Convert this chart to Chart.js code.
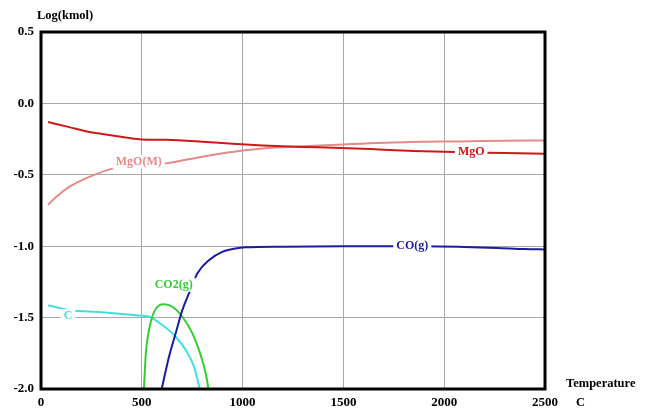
<!DOCTYPE html>
<html>
<head>
<meta charset="utf-8">
<script src="https://cdn.jsdelivr.net/npm/chart.js@4/dist/chart.umd.min.js"></script>
<style>
  body { margin: 0; background: #fff; }
  canvas { display: block; }
</style>
</head>
<body>
<canvas id="chart" width="654" height="416"></canvas>
<script>
// temperatures (C) and log(kmol) values
var mgoT = [35, 140, 240, 355, 440, 500, 620, 800, 950, 1100, 1300, 1450, 1700, 1850, 2050, 2150, 2300, 2500];
var mgoY = [-0.13, -0.166, -0.2, -0.224, -0.243, -0.252, -0.255, -0.268, -0.282, -0.294, -0.305, -0.31, -0.324, -0.333, -0.34, -0.343, -0.348, -0.352];

var mgoMT = [35, 75, 140, 240, 360, 500, 620, 800, 1000, 1100, 1300, 1500, 1830, 2080, 2300, 2500];
var mgoMY = [-0.71, -0.655, -0.585, -0.515, -0.455, -0.435, -0.42, -0.373, -0.33, -0.315, -0.3, -0.287, -0.27, -0.266, -0.262, -0.259];

var coT = [597, 635, 668, 701, 734, 776, 833, 899, 965, 1015, 1200, 1500, 1900, 2100, 2262, 2400, 2500];
var coY = [-2.01, -1.774, -1.61, -1.448, -1.331, -1.19, -1.098, -1.04, -1.016, -1.008, -1.003, -1.0, -1.0, -1.005, -1.012, -1.02, -1.023];

var co2T = [510, 520, 536, 561, 611, 652, 701, 751, 792, 817, 832];
var co2Y = [-2.02, -1.75, -1.587, -1.46, -1.406, -1.424, -1.494, -1.61, -1.762, -1.89, -2.01];

var cT = [35, 99, 140, 300, 470, 536, 602, 668, 718, 759, 784, 790];
var cY = [-1.413, -1.436, -1.448, -1.462, -1.483, -1.494, -1.552, -1.634, -1.727, -1.844, -1.98, -2.02];

var xTicks = [0, 500, 1000, 1500, 2000, 2500];
var yTicks = [-2.0, -1.5, -1.0, -0.5, 0.0, 0.5];

// curve labels: text, temperature, value
var labelText = ['MgO', 'MgO(M)', 'CO(g)', 'CO2(g)', 'C'];
var labelT = [2134, 485, 1842, 658, 134];
var labelY = [-0.343, -0.41, -1.0, -1.27, -1.49];
var labelColor = ['#cc1a1a', '#e58a8a', '#1c1c9c', '#33cc33', '#44dede'];

function pts(t, y) {
    var out = [];
    for (var i = 0; i < t.length; i++) out.push({x: t[i], y: y[i]});
    return out;
}

function line(name, t, y, color) {
    return {
        label: name,
        data: pts(t, y),
        borderColor: color,
        borderWidth: 2,
        pointRadius: 0,
        fill: false,
        cubicInterpolationMode: 'monotone'
    };
}

var serif = '"Liberation Serif", "Times New Roman", serif';

var extras = {
    id: 'extras',
    afterDatasetsDraw: function(chart) {
        var ctx = chart.ctx;
        var a = chart.chartArea;
        var xs = chart.scales.x, ys = chart.scales.y;
        ctx.save();
        // frame
        ctx.strokeStyle = '#000';
        ctx.lineWidth = 3;
        ctx.strokeRect(a.left, a.top, a.right - a.left, a.bottom - a.top);
        // curve labels with white box
        ctx.font = 'bold 12px ' + serif;
        ctx.textAlign = 'center';
        ctx.textBaseline = 'middle';
        for (var i = 0; i < labelText.length; i++) {
            var px = xs.getPixelForValue(labelT[i]);
            var py = ys.getPixelForValue(labelY[i]);
            var w = ctx.measureText(labelText[i]).width;
            ctx.fillStyle = '#fff';
            ctx.fillRect(px - w / 2 - 3, py - 7, w + 6, 14);
            ctx.fillStyle = labelColor[i];
            ctx.fillText(labelText[i], px, py);
        }
        // axis titles
        ctx.fillStyle = '#000';
        ctx.font = 'bold 12.5px ' + serif;
        ctx.textAlign = 'left';
        ctx.fillText('Log(kmol)', 37, 16);
        ctx.fillText('Temperature', 566, 384);
        ctx.fillText('C', 576, 403);
        ctx.restore();
    }
};

const ctx = document.getElementById('chart').getContext('2d');
const myChart = new Chart(ctx, {
    type: 'line',
    data: {
        datasets: [
            line('MgO', mgoT, mgoY, labelColor[0]),
            line('MgO(M)', mgoMT, mgoMY, labelColor[1]),
            line('CO(g)', coT, coY, labelColor[2]),
            line('CO2(g)', co2T, co2Y, labelColor[3]),
            line('C', cT, cY, labelColor[4])
        ]
    },
    options: {
        responsive: false,
        animation: false,
        layout: { padding: { top: 32, right: 109, left: 0, bottom: 0 } },
        plugins: { legend: { display: false }, tooltip: { enabled: false } },
        scales: {
            x: {
                type: 'linear',
                min: xTicks[0],
                max: xTicks[xTicks.length - 1],
                afterBuildTicks: function(s) { s.ticks = xTicks.map(function(v) { return {value: v}; }); },
                afterFit: function(s) { s.height = 27; },
                grid: { color: '#a8a8a8', lineWidth: 1, drawTicks: false },
                border: { display: false },
                ticks: {
                    padding: 6, color: '#000',
                    font: { family: serif, size: 13, weight: 'bold' },
                    callback: function(v) { return String(v); }
                }
            },
            y: {
                min: yTicks[0],
                max: yTicks[yTicks.length - 1],
                afterBuildTicks: function(s) { s.ticks = yTicks.map(function(v) { return {value: v}; }); },
                afterFit: function(s) { s.width = 41; },
                grid: { color: '#a8a8a8', lineWidth: 1, drawTicks: false },
                border: { display: false },
                ticks: {
                    padding: 7, color: '#000',
                    font: { family: serif, size: 13, weight: 'bold' },
                    callback: function(v) { return v.toFixed(1); }
                }
            }
        }
    },
    plugins: [extras]
});
</script>
</body>
</html>
